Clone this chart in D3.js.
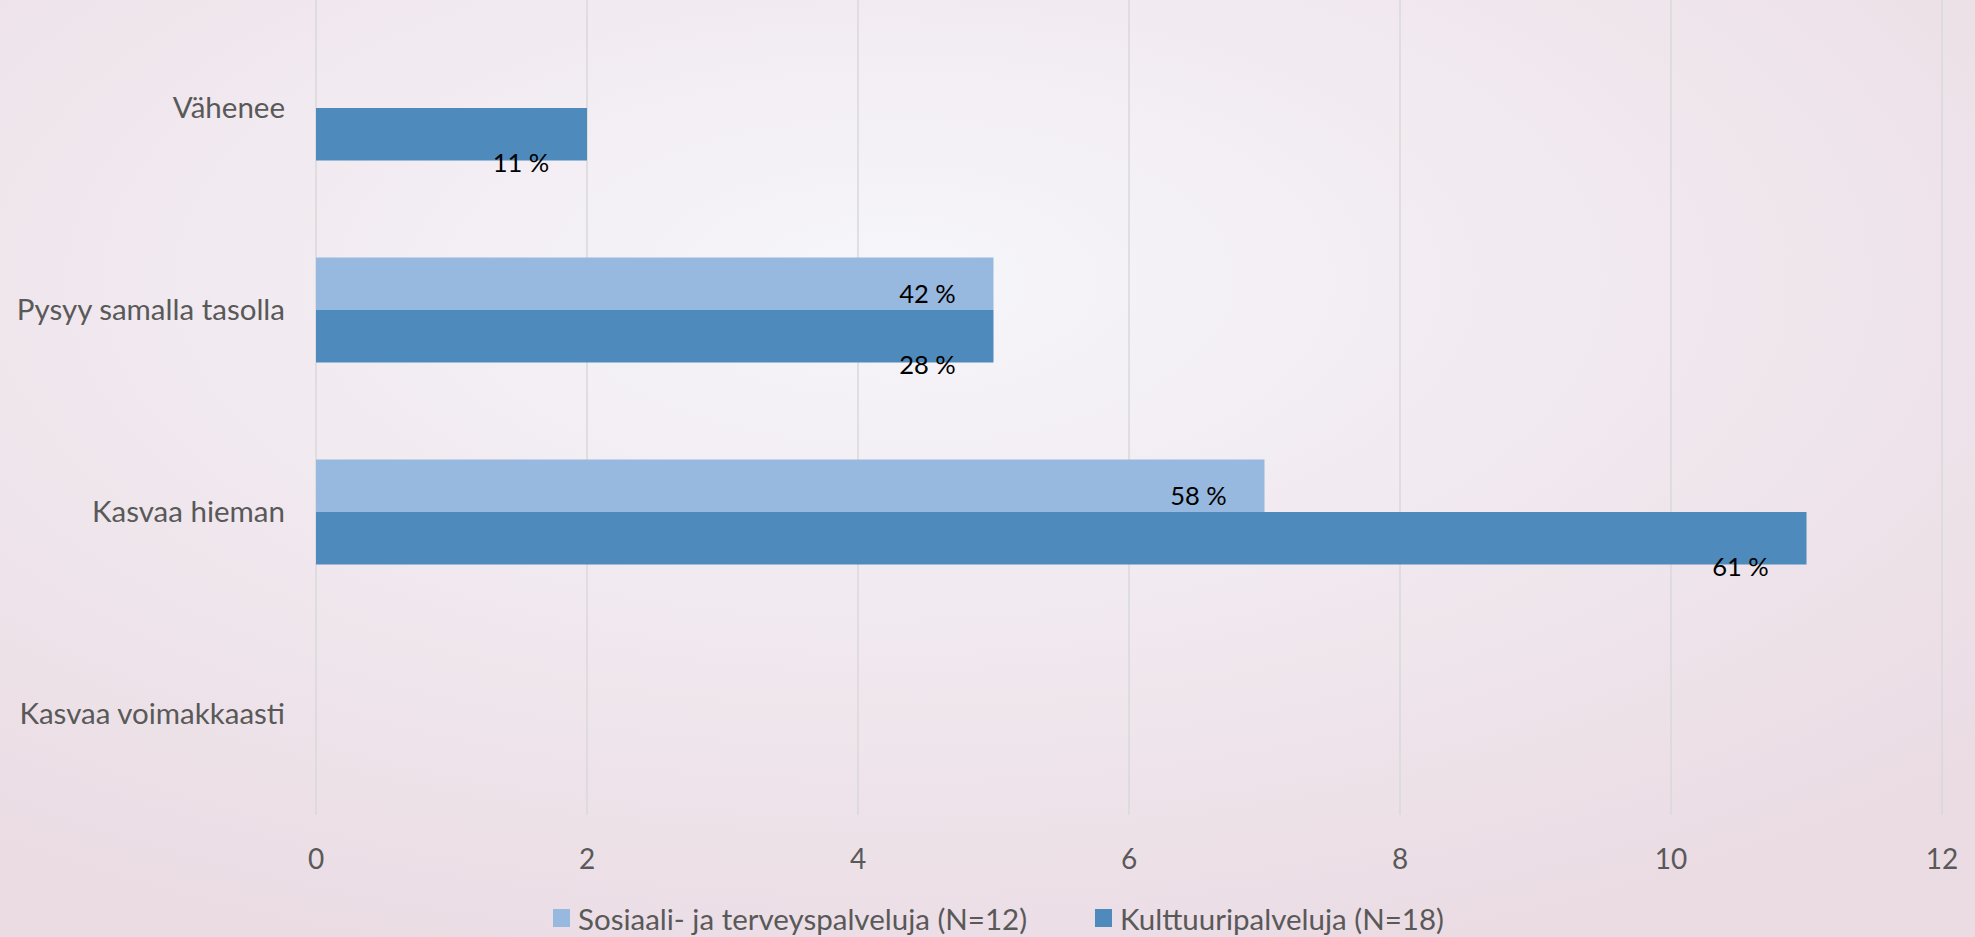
<!DOCTYPE html>
<html lang="fi">
<head>
    <meta charset="UTF-8">
    <title>Palvelujen kysyntä</title>
    <script src="https://cdnjs.cloudflare.com/ajax/libs/d3/7.8.5/d3.min.js"></script>
    <style>
        html, body {
            margin: 0;
            padding: 0;
            overflow: hidden;
        }
        svg text {
            font-family: Lato, "Open Sans", sans-serif;
        }
    </style>
</head>
<body>
    <div id="chart"></div>

    <script>
        // Data
        const categories = ["Vähenee", "Pysyy samalla tasolla", "Kasvaa hieman", "Kasvaa voimakkaasti"];
        const seriesNames = ["Sosiaali- ja terveyspalveluja (N=12)", "Kulttuuripalveluja (N=18)"];
        const sosValues = [0, 5, 7, 0];
        const kultValues = [2, 5, 11, 0];
        const sosLabels = ["", "42 %", "58 %", ""];
        const kultLabels = ["11 %", "28 %", "61 %", ""];
        const xTicks = [0, 2, 4, 6, 8, 10, 12];
        const colors = ["#98b9df", "#4f8abd"];

        const width = 1975, height = 937;

        const svg = d3.select("#chart")
            .append("svg")
            .attr("width", width)
            .attr("height", height);

        // Background radial gradient
        const defs = svg.append("defs");
        const grad = defs.append("radialGradient")
            .attr("id", "bg")
            .attr("cx", "45%")
            .attr("cy", "30%")
            .attr("r", "75%");
        grad.append("stop").attr("offset", "0%").attr("stop-color", "#f6f6fa");
        grad.append("stop").attr("offset", "100%").attr("stop-color", "#ebdce4");

        svg.append("rect")
            .attr("width", width)
            .attr("height", height)
            .attr("fill", "url(#bg)");

        const x = d3.scaleLinear().domain([0, 12]).range([316, 1942]);
        const y = d3.scaleBand().domain(categories).range([7, 815]);
        const barH = 52.5;

        // Gridlines
        svg.append("g")
            .selectAll("line")
            .data(xTicks)
            .enter()
            .append("line")
            .attr("x1", d => x(d))
            .attr("x2", d => x(d))
            .attr("y1", 0)
            .attr("y2", 815)
            .attr("stroke", "#d9d9d9")
            .attr("stroke-width", 1.5);

        // Tick labels
        svg.append("g")
            .selectAll("text")
            .data(xTicks)
            .enter()
            .append("text")
            .attr("x", d => x(d))
            .attr("y", 858)
            .attr("text-anchor", "middle")
            .attr("dominant-baseline", "central")
            .attr("font-size", 28)
            .attr("fill", "#595959")
            .text(d => d);

        // Category labels
        svg.append("g")
            .selectAll("text")
            .data(categories)
            .enter()
            .append("text")
            .attr("x", 285)
            .attr("y", d => y(d) + y.bandwidth() / 2 - 2)
            .attr("text-anchor", "end")
            .attr("dominant-baseline", "central")
            .attr("font-size", 29.5)
            .attr("fill", "#595959")
            .text(d => d);

        const center = c => y(c) + y.bandwidth() / 2;

        // Bars: light series above the category centre, dark below
        const series = [
            { values: sosValues, labels: sosLabels, top: c => center(c) - barH, dy: barH - 17 },
            { values: kultValues, labels: kultLabels, top: c => center(c), dy: barH + 1 }
        ];

        series.forEach((s, si) => {
            const rows = categories.map((c, i) => ({ c, v: s.values[i], label: s.labels[i] }));

            svg.append("g")
                .selectAll("rect")
                .data(rows.filter(d => d.v > 0))
                .enter()
                .append("rect")
                .attr("x", x(0))
                .attr("y", d => s.top(d.c))
                .attr("width", d => x(d.v) - x(0))
                .attr("height", barH)
                .attr("fill", colors[si]);

            svg.append("g")
                .selectAll("text")
                .data(rows.filter(d => d.label))
                .enter()
                .append("text")
                .attr("x", d => x(d.v) - 66)
                .attr("y", d => s.top(d.c) + s.dy)
                .attr("text-anchor", "middle")
                .attr("dominant-baseline", "central")
                .attr("font-size", 25.5)
                .attr("fill", "#000")
                .text(d => d.label);
        });

        // Legend
        const legendX = [553, 1095];
        const legend = svg.append("g")
            .selectAll("g")
            .data(seriesNames)
            .enter()
            .append("g")
            .attr("transform", (d, i) => `translate(${legendX[i]},918)`);

        legend.append("rect")
            .attr("x", 0)
            .attr("y", -9)
            .attr("width", 17)
            .attr("height", 18)
            .attr("fill", (d, i) => colors[i]);

        legend.append("text")
            .attr("x", 25)
            .attr("y", 0)
            .attr("dominant-baseline", "central")
            .attr("font-size", 29.5)
            .attr("fill", "#595959")
            .text(d => d);
    </script>
</body>
</html>
